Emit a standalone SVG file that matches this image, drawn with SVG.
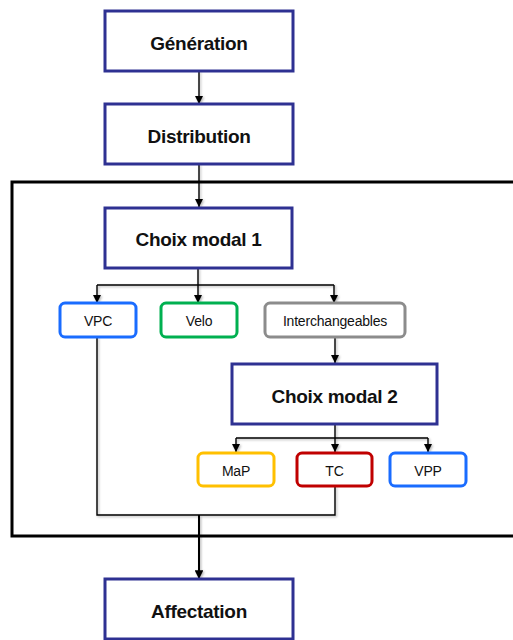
<svg xmlns="http://www.w3.org/2000/svg" width="513" height="640" viewBox="0 0 513 640">
  <style>
    .step rect { fill: #ffffff; stroke: #2E3192; stroke-width: 3; }
    .step text { font-family: "Liberation Sans", Arial, sans-serif; font-weight: bold; font-size: 19px; letter-spacing: -0.3px; fill: #111111; text-anchor: middle; }
    .mode rect { fill: #ffffff; stroke-width: 3; }
    .mode text { font-family: "Liberation Sans", Arial, sans-serif; font-size: 14px; letter-spacing: -0.2px; fill: #111111; text-anchor: middle; }
    .wire { fill: none; stroke: #000000; stroke-width: 1.4; }
    .wire.bold { stroke-width: 2; }
    .frame { fill: none; stroke: #000000; stroke-width: 3; }
  </style>
  <defs>
    <marker id="arrow" viewBox="0 0 10 10" refX="10" refY="5" markerWidth="6" markerHeight="6" orient="auto" markerUnits="strokeWidth">
      <path d="M0,0 L10,5 L0,10 Z" fill="#000000"/>
    </marker>
    <marker id="arrowB" viewBox="0 0 10 10" refX="10" refY="5" markerWidth="4.4" markerHeight="4.4" orient="auto" markerUnits="strokeWidth">
      <path d="M0,0 L10,5 L0,10 Z" fill="#000000"/>
    </marker>
    <filter id="soft" x="-5%" y="-5%" width="110%" height="110%">
      <feDropShadow dx="1.2" dy="1.2" stdDeviation="0.8" flood-color="#000000" flood-opacity="0.3"/>
    </filter>
  </defs>

  <!-- mode-choice frame -->
  <rect class="frame" x="12" y="182" width="520" height="354"/>

  <!-- connectors -->
  <g id="connectors" filter="url(#soft)">
    <path class="wire" d="M199 71 V104" marker-end="url(#arrow)"/>
    <path class="wire" d="M199 164 V207" marker-end="url(#arrow)"/>
    <path class="wire" d="M198 268 V285"/>
    <path class="wire" d="M97 285 H334"/>
    <path class="wire" d="M97 285 V303" marker-end="url(#arrow)"/>
    <path class="wire" d="M198 285 V303" marker-end="url(#arrow)"/>
    <path class="wire" d="M334 285 V303" marker-end="url(#arrow)"/>
    <path class="wire" d="M335 337 V363" marker-end="url(#arrow)"/>
    <path class="wire" d="M335 424 V438"/>
    <path class="wire" d="M236 438 H428"/>
    <path class="wire" d="M236 438 V452" marker-end="url(#arrow)"/>
    <path class="wire" d="M335 438 V452" marker-end="url(#arrow)"/>
    <path class="wire" d="M428 438 V452" marker-end="url(#arrow)"/>
    <path class="wire" d="M97 337 V515 H335 V486"/>
    <path class="wire bold" d="M199 515 V579" marker-end="url(#arrowB)"/>
  </g>

  <!-- main steps -->
  <g id="generation" class="step">
    <rect x="105" y="11" width="188" height="60"/>
    <text x="199" y="49.5">Génération</text>
  </g>
  <g id="distribution" class="step">
    <rect x="105" y="104" width="188" height="60"/>
    <text x="199" y="142.5">Distribution</text>
  </g>
  <g id="choix-modal-1" class="step">
    <rect x="105" y="208" width="187" height="60"/>
    <text x="198.5" y="246">Choix modal 1</text>
  </g>
  <g id="choix-modal-2" class="step">
    <rect x="232" y="364" width="205" height="60"/>
    <text x="334.5" y="402.5">Choix modal 2</text>
  </g>
  <g id="affectation" class="step">
    <rect x="105" y="579" width="188" height="60"/>
    <text x="199" y="617.5">Affectation</text>
  </g>

  <!-- modes -->
  <g id="vpc" class="mode">
    <rect x="60" y="303" width="76" height="34" rx="5" stroke="#1A6CFF"/>
    <text x="98" y="326">VPC</text>
  </g>
  <g id="velo" class="mode">
    <rect x="161" y="303" width="76" height="34" rx="5" stroke="#00B050"/>
    <text x="199" y="326">Velo</text>
  </g>
  <g id="interchangeables" class="mode">
    <rect x="265" y="303" width="140" height="34" rx="5" stroke="#8C8C8C"/>
    <text x="335" y="326">Interchangeables</text>
  </g>
  <g id="map" class="mode">
    <rect x="198" y="453" width="76" height="33" rx="5" stroke="#FFC000"/>
    <text x="236" y="475.5">MaP</text>
  </g>
  <g id="tc" class="mode">
    <rect x="297" y="453" width="75" height="33" rx="5" stroke="#C00000"/>
    <text x="334.5" y="475.5">TC</text>
  </g>
  <g id="vpp" class="mode">
    <rect x="390" y="453" width="76" height="33" rx="5" stroke="#1A6CFF"/>
    <text x="428" y="475.5">VPP</text>
  </g>
</svg>
